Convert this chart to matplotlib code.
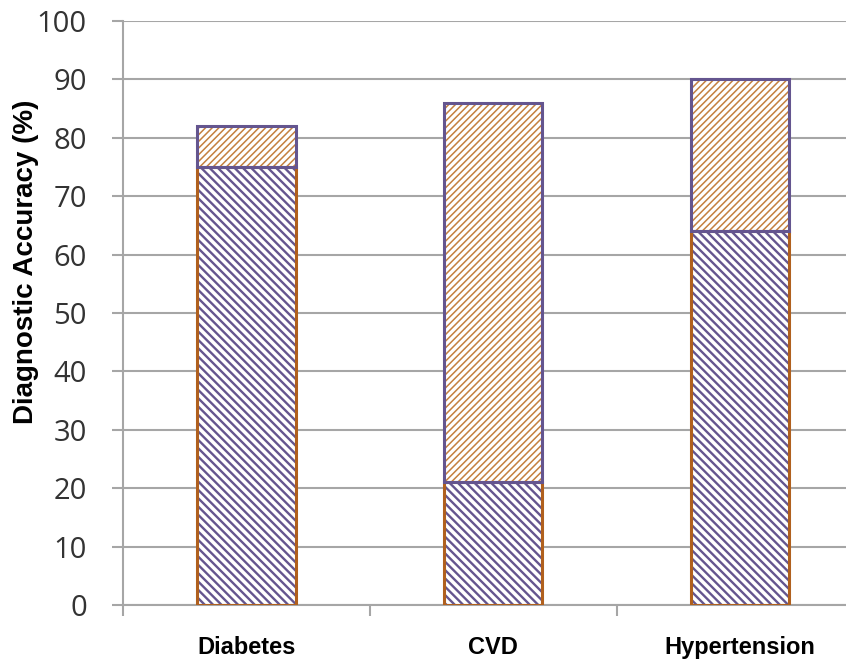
import matplotlib
matplotlib.use('Agg')
import matplotlib.pyplot as plt
import numpy as np

# ===== DANE =====
categories = ["Diabetes", "CVD", "Hypertension"]
bottom_vals = [75, 21, 64]
top_vals = [7, 65, 26]
y_ticks = [0, 10, 20, 30, 40, 50, 60, 70, 80, 90, 100]

PURPLE = '#64558f'
ORANGE = '#b0601e'
ORANGE_HATCH = '#c4803f'
GRID = '#a6a6a6'

fig = plt.figure(figsize=(8.46, 6.64), dpi=100)
ax = fig.add_axes([0.1454, 0.0889, 0.8546, 0.8795])

x = np.arange(len(categories))
w = 0.4

ax.set_axisbelow(True)
ax.yaxis.grid(True, color=GRID, linewidth=1.5)

# wypelnienie (kreskowanie)
with plt.rc_context({'hatch.linewidth': 1.7}):
    ax.bar(x, bottom_vals, w, color='white', edgecolor=PURPLE, hatch='\\\\\\\\', linewidth=0, zorder=2)
with plt.rc_context({'hatch.linewidth': 1.1}):
    ax.bar(x, top_vals, w, bottom=bottom_vals, color='white', edgecolor=ORANGE_HATCH, hatch='/////', linewidth=0, zorder=2)
# obramowanie
ax.bar(x, bottom_vals, w, fill=False, edgecolor=ORANGE, linewidth=2.2, zorder=3)
ax.bar(x, top_vals, w, bottom=bottom_vals, fill=False, edgecolor=PURPLE, linewidth=2.2, zorder=4)

ax.set_xlim(-0.5, 2.43)
ax.set_ylim(0, 100)
ax.set_yticks(y_ticks)
ax.set_yticklabels([str(v) for v in y_ticks], fontsize=21, color='#333333', family='Open Sans')
ax.set_xticks(x)
ax.set_xticklabels(categories, fontsize=17, fontweight='bold', family='Liberation Sans')
ax.tick_params(axis='x', length=0, pad=22)
ax.set_xticks([-0.5, 0.5, 1.5], minor=True)
ax.tick_params(axis='x', which='minor', length=8, color=GRID, width=1.5, direction='out')
ax.tick_params(axis='y', length=8, color=GRID, width=1.5, direction='out', pad=18)

fig.text(26 / 846, 1 - 262 / 664, 'Diagnostic Accuracy (%)', rotation=90, ha='center', va='center',
         fontsize=20, fontweight='bold', family='Liberation Sans')

for s in ['top', 'right']:
    ax.spines[s].set_visible(False)
for s in ['left', 'bottom']:
    ax.spines[s].set_color(GRID)
    ax.spines[s].set_linewidth(1.5)

plt.savefig('out.png', dpi=100)
